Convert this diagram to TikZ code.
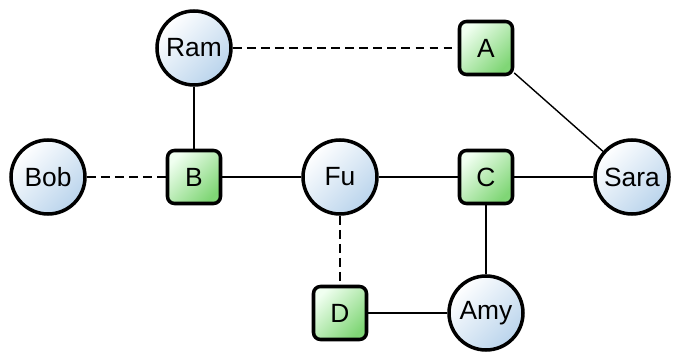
\documentclass[tikz,border=0pt]{standalone}
\usepackage{fontspec}
\setmainfont{Liberation Sans}
\usetikzlibrary{positioning}
\definecolor{personblue}{RGB}{186,212,236}
\definecolor{groupgreen}{RGB}{128,214,118}

\begin{document}
\begin{tikzpicture}[
        person/.style={circle, draw, line width=2pt, minimum size=1.48cm, inner sep=0pt,
            top color=white, bottom color=personblue, shading angle=45, font=\fontsize{15}{18}\selectfont},
        group/.style={rectangle, rounded corners=4pt, draw, line width=2pt, minimum size=1.06cm, inner sep=0pt,
            top color=green!6, bottom color=groupgreen, shading angle=45, font=\fontsize{15}{18}\selectfont},
        tie/.style={line width=0.8pt},
        weak/.style={line width=0.8pt, dashed, dash pattern=on 5pt off 3pt}
    ]
        \useasboundingbox (0,0) rectangle (13.5,7.04);
        % people
        \node[person] (ram) at (3.88,6.08) {Ram};
        \node[person] (bob) at (0.96,3.50) {Bob};
        \node[person] (fu) at (6.80,3.50) {Fu};
        \node[person] (sara) at (12.64,3.50) {Sara};
        \node[person] (amy) at (9.72,0.78) {Amy};
        % groups
        \node[group] (a) at (9.72,6.08) {A};
        \node[group] (b) at (3.88,3.50) {B};
        \node[group] (c) at (9.72,3.50) {C};
        \node[group] (d) at (6.80,0.78) {D};
        % links
        \draw[weak] (ram) -- (a);
        \draw[weak] (bob) -- (b);
        \draw[weak] (fu) -- (d);
        \draw[tie] (ram) -- (b);
        \draw[tie] (b) -- (fu);
        \draw[tie] (fu) -- (c);
        \draw[tie] (c) -- (sara);
        \draw[tie] (a) -- (sara);
        \draw[tie] (c) -- (amy);
        \draw[tie] (d) -- (amy);
    \end{tikzpicture}
\end{document}
